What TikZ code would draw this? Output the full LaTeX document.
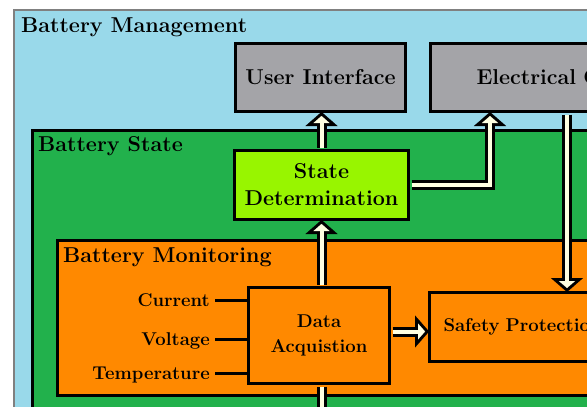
\documentclass[tikz,border=0pt]{standalone}
\usetikzlibrary{arrows.meta}
\definecolor{bmblue}{RGB}{153,217,234}
\definecolor{bmframe}{RGB}{128,128,128}
\definecolor{bmgrayfill}{RGB}{164,164,168}
\definecolor{bmgreen}{RGB}{34,177,76}
\definecolor{bmlime}{RGB}{152,245,0}
\definecolor{bmorange}{RGB}{255,137,0}
\definecolor{bmcream}{RGB}{255,255,225}
\begin{document}
\begin{tikzpicture}[x=1pt,y=-1pt,
  bigfont/.style={font=\fontsize{21.5}{27}\selectfont\bfseries},
  smallfont/.style={font=\fontsize{18.5}{25}\selectfont\bfseries},
  titletext/.style={bigfont, inner sep=0pt, anchor=base west},
  region/.style={draw=black, line width=3pt, anchor=north west, inner sep=0pt, minimum width=700pt},
  box/.style={draw=black, line width=3pt, anchor=north west, align=center},
  graybox/.style={box, fill=bmgrayfill, bigfont},
  limebox/.style={box, fill=bmlime, bigfont},
  orangebox/.style={box, fill=bmorange, smallfont},
  sensor/.style={smallfont, anchor=east, inner xsep=5pt, inner ysep=0pt, text height=14.7pt, text depth=2pt},
  wire/.style={draw=black, line width=3pt},
  outerarrow/.style={draw=black, line width=10pt, shorten >=-1pt, shorten <=1.5pt,
    -{Triangle[length=14pt,width=32pt,line width=0.1pt]}},
  innerarrow/.style={draw=bmcream, line width=4pt, shorten >=3pt, shorten <=1.5pt,
    -{Triangle[length=7pt,width=16pt,line width=0.1pt]}},
  outershaft/.style={draw=black, line width=10pt, shorten <=1.5pt},
  innershaft/.style={draw=bmcream, line width=4pt, shorten <=1.5pt}]
\useasboundingbox (0,0) rectangle (587,407);
\clip (0,0) rectangle (587,407);
\fill[white] (0,0) rectangle (587,407);
% regions
\node[draw=bmframe, line width=2pt, fill=bmblue, anchor=north west, inner sep=0pt,
      minimum width=700pt, minimum height=500pt] (bm) at (13,9) {};
\node[titletext] (bmtitle) at (21,32) {Battery Management};
\node[region, fill=bmgreen, minimum height=400pt] (bs) at (31,129) {};
\node[titletext] (bstitle) at (38,151) {Battery State};
\node[region, fill=bmorange, minimum height=155pt] (bmon) at (56,239) {};
\node[titletext] (bmontitle) at (63,262) {Battery Monitoring};
% boxes
\node[graybox, minimum width=170pt, minimum height=68pt] (ui) at (234,42) {User Interface};
\node[graybox, minimum height=68pt, text width=250pt, align=left, inner xsep=46pt] (ec) at (429,42) {Electrical Circuit};
\node[limebox, minimum width=174pt, minimum height=69pt] (sd) at (233,149) {State\\Determination};
\node[orangebox, minimum width=141pt, minimum height=96pt] (da) at (247,286) {Data\\Acquistion};
\node[orangebox, minimum height=69pt, text width=250pt, align=left, inner xsep=14pt] (sp) at (428,291) {Safety Protection};
% sensors
\node[sensor] (cur) at (215,300) {Current};
\node[sensor] (vol) at (215,339) {Voltage};
\node[sensor] (tem) at (215,373) {Temperature};
\draw[wire] (cur.east) -- (cur.east -| da.west);
\draw[wire] (vol.east) -- (vol.east -| da.west);
\draw[wire] (tem.east) -- (tem.east -| da.west);
% connector points
\coordinate (ecin) at ([xshift=61pt]ec.south west);
\coordinate (ecout) at ([xshift=138pt]ec.south west);
\coordinate (daup) at (da.north -| sd.south);
\coordinate (dadown) at (da.south -| sd.south);
\coordinate (offbottom) at ([yshift=-40pt]dadown);
\coordinate (daright) at ([yshift=4pt]da.east);
% arrows: outer pass
\draw[outerarrow] (sd.north) -- (sd.north |- ui.south);
\draw[outerarrow, line join=miter] (sd.east) -| (ecin);
\draw[outerarrow] (ecout) -- (ecout |- sp.north);
\draw[outerarrow] (daup) -- (sd.south);
\draw[outerarrow] (daright) -- (daright -| sp.west);
\draw[outershaft] (dadown) -- (offbottom);
% arrows: inner pass
\draw[innerarrow] (sd.north) -- (sd.north |- ui.south);
\draw[innerarrow, line join=miter] (sd.east) -| (ecin);
\draw[innerarrow] (ecout) -- (ecout |- sp.north);
\draw[innerarrow] (daup) -- (sd.south);
\draw[innerarrow] (daright) -- (daright -| sp.west);
\draw[innershaft] (dadown) -- (offbottom);
\end{tikzpicture}
\end{document}
